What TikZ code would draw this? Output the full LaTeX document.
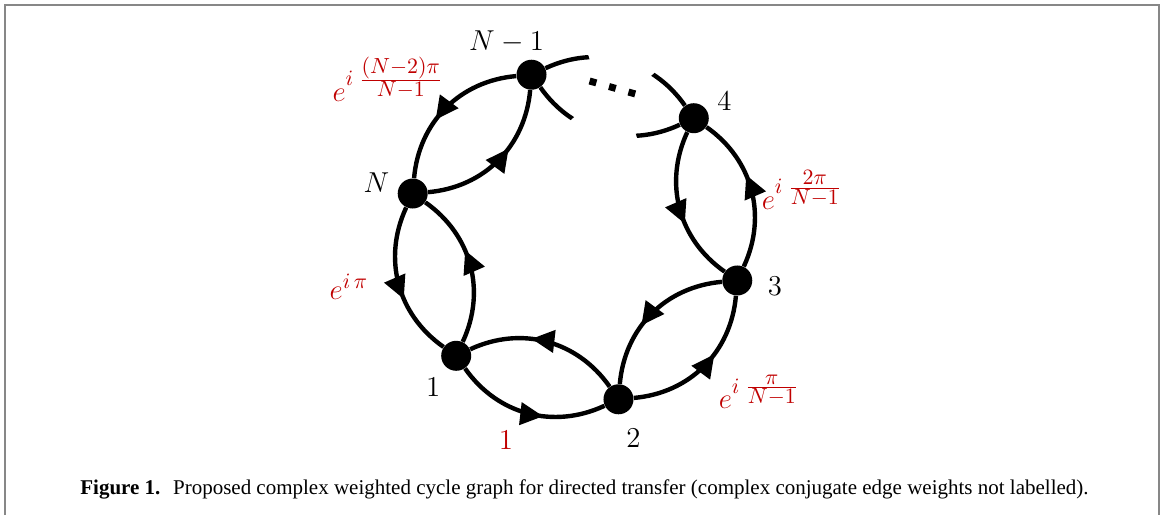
\documentclass[tikz,border=0pt]{standalone}
\usepackage{amsmath}
\usepackage{fontspec}
\usepackage{tikz}
\usetikzlibrary{positioning, arrows.meta, decorations.markings}
\newfontfamily\capfont{Liberation Serif}
\definecolor{weightRed}{HTML}{C00000}
\definecolor{frameGray}{HTML}{878787}

\begin{document}
\begin{tikzpicture}[
    x=0.5pt, y=0.5pt,
    vertex/.style={circle, fill=black, inner sep=0pt, minimum size=15pt},
    vlabel/.style={font=\Large, inner sep=0pt},
    wlabel/.style={font=\fontsize{15}{18}\selectfont, text=weightRed, inner sep=0pt},
    link/.style={line width=2.2pt, postaction={decorate}, decoration={markings, mark=at position 0.6 with {\arrow{Triangle[length=11.5pt, width=11pt]}}}},
    stub/.style={line width=2.2pt},
    frame/.style={draw=frameGray, line width=1pt}
]
\useasboundingbox (-575,-278) rectangle (588,237);
\draw[frame] (-570,-278) -- (-570,232) -- (583.5,232) -- (583.5,-278);

\node[vertex] (v1) at (225:168) {};
\node[vertex] (v2) at (285:168) {};
\node[vertex] (v3) at (345:168) {};
\node[vertex] (v4) at (45:168) {};
\node[vertex] (vNm) at (105:168) {};
\node[vertex] (vN) at (165:168) {};

\node[vlabel, below=3.3pt of v1, xshift=-11.5pt] (l1) {$1$};
\node[vlabel, below=6.8pt of v2, xshift=7.5pt] (l2) {$2$};
\node[vlabel, right=7.4pt of v3, yshift=-3pt] (l3) {$3$};
\node[vlabel, right=3.9pt of v4, yshift=8.5pt] (l4) {$4$};
\node[vlabel, above=3pt of vNm, xshift=-12.5pt] (lNm) {$N-1$};
\node[vlabel, left=3.8pt of vN, yshift=5.5pt] (lN) {$N$};

\draw[link] (v1) to[bend right=40] (v2);
\draw[link] (v2) to[bend right=40] (v1);
\draw[link] (v2) to[bend right=40] (v3);
\draw[link] (v3) to[bend right=40] (v2);
\draw[link] (v3) to[bend right=40] (v4);
\draw[link] (v4) to[bend right=40] (v3);
\draw[link] (vNm) to[bend right=40] (vN);
\draw[link] (vN) to[bend right=40] (vNm);
\draw[link] (vN) to[bend right=40] (v1);
\draw[link] (v1) to[bend right=40] (vN);

% broken part of the cycle
\begin{scope}
\clip (vNm) circle (30pt) (v4) circle (30pt);
\draw[stub] (v4) to[bend right=40] (vNm);
\draw[stub] (vNm) to[bend right=40] (v4);
\end{scope}
\draw[line width=3.5pt, dash pattern=on 3.5pt off 6.6pt] (14.6,156) -- (60.4,143);

\node[wlabel] (w12) at (-69,-203) {$1$};
\node[wlabel] (w23) at (184,-155) {$e^{i\;\frac{\scriptstyle\pi}{\scriptstyle N-1}}$};
\node[wlabel] (w34) at (227,47) {$e^{i\;\frac{\scriptstyle 2\pi}{\scriptstyle N-1}}$};
\node[wlabel] (wN1) at (-226,-50) {$e^{i\,\pi}$};
\node[wlabel] (wNmN) at (-187,158) {$e^{i\;\frac{\scriptstyle (N-2)\pi}{\scriptstyle N-1}}$};

\node[anchor=base west, inner sep=0pt, font=\capfont\fontsize{10.5}{12}\selectfont] (cap) at (-495,-257)
    {\textbf{Figure 1.}\hspace{0.6em}Proposed complex weighted cycle graph for directed transfer (complex conjugate edge weights not labelled).};
\end{tikzpicture}
\end{document}
